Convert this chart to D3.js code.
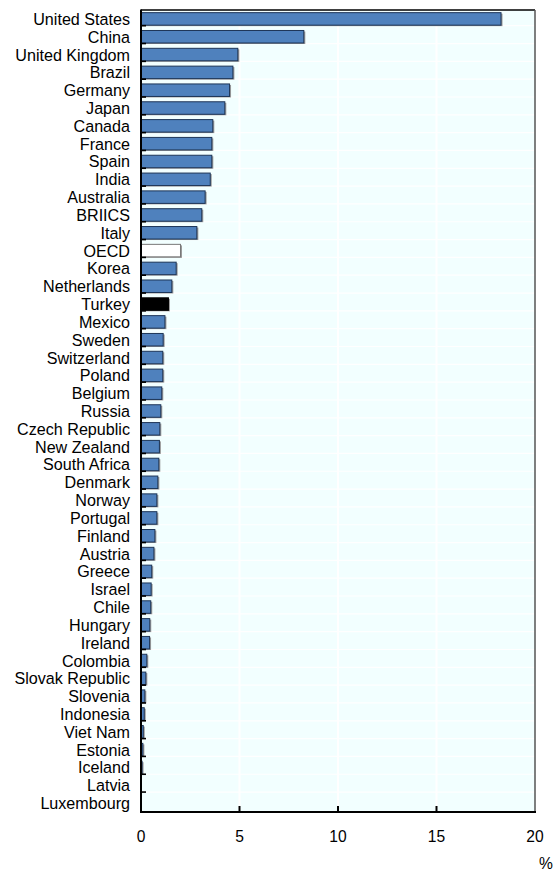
<!DOCTYPE html>
<html><head><meta charset="utf-8">
<script src="https://cdn.jsdelivr.net/npm/d3@7"></script>
<style>body{margin:0;background:#fff}svg{display:block}text{font-family:"Liberation Sans",Arial,sans-serif}</style>
</head><body><svg id="c" width="560" height="873"></svg>
<script>
const countries = ["United States","China","United Kingdom","Brazil","Germany","Japan","Canada","France","Spain","India","Australia","BRIICS","Italy","OECD","Korea","Netherlands","Turkey","Mexico","Sweden","Switzerland","Poland","Belgium","Russia","Czech Republic","New Zealand","South Africa","Denmark","Norway","Portugal","Finland","Austria","Greece","Israel","Chile","Hungary","Ireland","Colombia","Slovak Republic","Slovenia","Indonesia","Viet Nam","Estonia","Iceland","Latvia","Luxembourg"];
const values = [18.3,8.29,4.94,4.69,4.52,4.28,3.67,3.62,3.62,3.54,3.28,3.11,2.86,2.03,1.81,1.59,1.42,1.24,1.15,1.13,1.13,1.08,1.03,0.98,0.96,0.93,0.88,0.83,0.83,0.73,0.68,0.57,0.54,0.52,0.47,0.46,0.32,0.27,0.22,0.19,0.14,0.12,0.08,0,0];
const xTicks = [0,5,10,15,20];
const highlight = {"OECD":"oecd","Turkey":"turkey"};

const svg = d3.select("#c");
const L = 141, R = 535, T = 10, B = 812;
const x = d3.scaleLinear().domain([0,20]).range([L,R]);
const y = d3.scaleBand().domain(countries).range([T,B]).padding(0);
const bh = 12.5;

svg.append("rect").attr("x",L).attr("y",T).attr("width",R-L).attr("height",B-T).attr("fill","#f2ffff");

svg.append("g").selectAll("line").data(xTicks.slice(1,-1)).join("line")
  .attr("x1",d=>x(d)).attr("x2",d=>x(d)).attr("y1",T).attr("y2",B)
  .attr("stroke","#fff").attr("stroke-width",2);
const seps = countries.slice(0,-1);
svg.append("g").selectAll("line").data(seps).join("line")
  .attr("x1",L).attr("x2",R).attr("y1",d=>y(d)+y.bandwidth()/2+6.8).attr("y2",d=>y(d)+y.bandwidth()/2+6.8)
  .attr("stroke","#fff").attr("stroke-width",1.2);

const g = svg.append("g");
countries.forEach((c,i)=>{
  const v = values[i];
  if (v<=0) return;
  const yc = y(c)+y.bandwidth()/2;
  const w = x(v)-x(0);
  const kind = highlight[c];
  g.append("rect").attr("x",x(0)+1).attr("y",yc-bh/2+1).attr("width",w).attr("height",bh).attr("fill","#9a9a9a");
  g.append("rect").attr("x",x(0)).attr("y",yc-bh/2).attr("width",Math.max(w-0.5,0.8)).attr("height",bh)
    .attr("fill", kind==="oecd" ? "#ffffff" : kind==="turkey" ? "#000000" : "#4f81bd")
    .attr("stroke", kind==="oecd" ? "#777" : kind==="turkey" ? "#000" : "#1d3557")
    .attr("stroke-width",1);
});

svg.append("g").selectAll("line").data(seps).join("line")
  .attr("x1",L).attr("x2",L+5).attr("y1",d=>y(d)+y.bandwidth()/2+6.8).attr("y2",d=>y(d)+y.bandwidth()/2+6.8)
  .attr("stroke","#000").attr("stroke-width",1.6);

svg.append("line").attr("x1",L).attr("x2",R).attr("y1",T).attr("y2",T).attr("stroke","#000").attr("stroke-width",1.5);
svg.append("line").attr("x1",R).attr("x2",R).attr("y1",T).attr("y2",B).attr("stroke","#555").attr("stroke-width",1.5);
svg.append("line").attr("x1",L).attr("x2",R+1).attr("y1",B).attr("y2",B).attr("stroke","#000").attr("stroke-width",2);
svg.append("line").attr("x1",L).attr("x2",L).attr("y1",T-0.5).attr("y2",B+1).attr("stroke","#000").attr("stroke-width",2);

svg.append("g").selectAll("line").data(xTicks.slice(1,-1)).join("line")
  .attr("x1",d=>x(d)).attr("x2",d=>x(d)).attr("y1",B).attr("y2",B-6)
  .attr("stroke","#000").attr("stroke-width",2);

svg.append("g").selectAll("text").data(xTicks).join("text")
  .attr("transform",d=>`translate(${x(d)},841.5) scale(0.92,1)`).attr("text-anchor","middle")
  .attr("font-size",17).attr("fill","#000").text(d=>d);
svg.append("text").attr("transform","translate(546,869) scale(0.92,1)").attr("text-anchor","middle").attr("font-size",17).text("%");

svg.append("g").selectAll("text").data(countries).join("text")
  .attr("transform",d=>`translate(130,${y(d)+y.bandwidth()/2+6}) scale(0.99,1)`)
  .attr("text-anchor","end").attr("font-size",16.3).attr("fill","#000")
  .text(d=>d);
</script></body></html>
